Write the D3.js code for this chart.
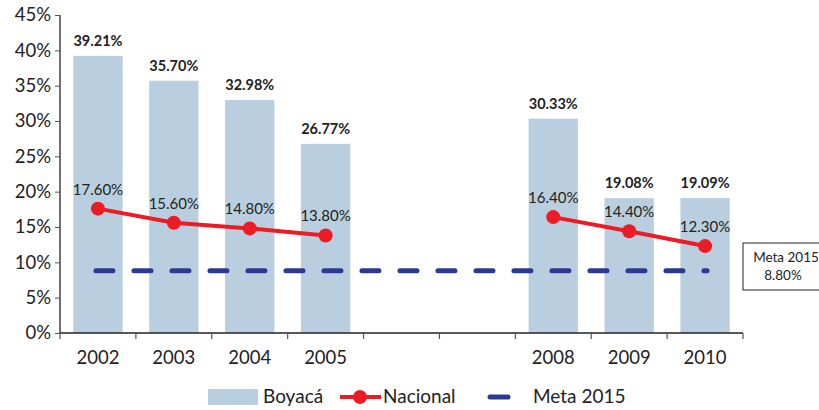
<!DOCTYPE html>
<html>
<head>
<meta charset="utf-8">
<script src="https://cdn.jsdelivr.net/npm/d3@7"></script>
<style>
  body { margin: 0; background: #fff; }
  svg { font-family: Lato, "Open Sans", sans-serif; }
</style>
</head>
<body>
<div id="chart"></div>
<script>
// data
var years = ["2002", "2003", "2004", "2005", "2006", "2007", "2008", "2009", "2010"];
var tickLabels = ["2002", "2003", "2004", "2005", "", "", "2008", "2009", "2010"];
var boyaca = [39.21, 35.70, 32.98, 26.77, null, null, 30.33, 19.08, 19.09];
var nacional = [17.60, 15.60, 14.80, 13.80, null, null, 16.40, 14.40, 12.30];
var meta2015 = 8.80;
var yTicks = [0, 5, 10, 15, 20, 25, 30, 35, 40, 45];

var W = 819, H = 410;
var margin = {top: 15, left: 60, right: 76, bottom: 77};

var svg = d3.select("#chart").append("svg")
  .attr("width", W).attr("height", H);

var x = d3.scaleBand().domain(years)
  .range([margin.left, W - margin.right])
  .paddingInner(0.35).paddingOuter(0.175);
var y = d3.scaleLinear().domain([0, 45])
  .range([H - margin.bottom, margin.top]);

var bw = x.bandwidth();
var step = x.step();
var cx = function(d) { return x(d) + bw / 2; };

var barYears = years.filter(function(d, i) { return boyaca[i] != null; });
var bval = function(d) { return boyaca[years.indexOf(d)]; };

// bars
svg.selectAll(".bar").data(barYears)
  .enter().append("rect")
  .attr("x", function(d) { return x(d); })
  .attr("y", function(d) { return y(bval(d)); })
  .attr("width", bw)
  .attr("height", function(d) { return y(0) - y(bval(d)); })
  .attr("fill", "#b9cfdf");

svg.selectAll(".barlabel").data(barYears)
  .enter().append("text")
  .attr("x", cx)
  .attr("y", function(d) { return y(bval(d)) - 10; })
  .attr("text-anchor", "middle")
  .attr("font-size", 14.5).attr("font-weight", "bold").attr("fill", "#222")
  .text(function(d) { return bval(d).toFixed(2) + "%"; });

// meta 2015 dashed line
svg.append("line")
  .attr("x1", cx("2002") - 2).attr("x2", cx("2010") + 2)
  .attr("y1", y(meta2015)).attr("y2", y(meta2015))
  .attr("stroke", "#2b3990").attr("stroke-width", 5)
  .attr("stroke-linecap", "round")
  .attr("stroke-dasharray", "17 21");

// nacional line
var line = d3.line()
  .defined(function(d) { return d.v != null; })
  .x(function(d) { return cx(d.year); })
  .y(function(d) { return y(d.v); });
var nacData = years.map(function(d, i) { return {year: d, v: nacional[i]}; });

svg.append("path").datum(nacData)
  .attr("d", line).attr("fill", "none")
  .attr("stroke", "#ed1c24").attr("stroke-width", 4);

var pts = nacData.filter(function(d) { return d.v != null; });
svg.selectAll(".pt").data(pts).enter().append("circle")
  .attr("cx", function(d) { return cx(d.year); })
  .attr("cy", function(d) { return y(d.v); })
  .attr("r", 7).attr("fill", "#ed1c24");

svg.selectAll(".ptlabel").data(pts).enter().append("text")
  .attr("x", function(d) { return cx(d.year); })
  .attr("y", function(d) { return y(d.v) - 14; })
  .attr("text-anchor", "middle")
  .attr("font-size", 15).attr("fill", "#222")
  .text(function(d) { return d.v.toFixed(2) + "%"; });

// axes
var yAxis = d3.axisLeft(y).tickValues(yTicks)
  .tickFormat(function(d) { return d + "%"; })
  .tickSize(5).tickPadding(4);
var gy = svg.append("g").attr("transform", "translate(" + margin.left + ",0)").call(yAxis);
gy.select(".domain").attr("stroke", "#222").attr("stroke-width", 1.3).attr("d", "M0," + y(45) + "V" + y(0));
gy.selectAll(".tick line").attr("stroke", "#555");
gy.selectAll("text").attr("font-size", 18.5).attr("fill", "#222")
  .attr("font-family", "Lato, sans-serif");

var xAxisG = svg.append("g").attr("transform", "translate(0," + y(0) + ")");
xAxisG.append("line")
  .attr("x1", margin.left).attr("x2", W - margin.right)
  .attr("stroke", "#222").attr("stroke-width", 1.3);
xAxisG.selectAll(".xt").data(d3.range(years.length + 1)).enter().append("line")
  .attr("x1", function(i) { return margin.left + i * step; })
  .attr("x2", function(i) { return margin.left + i * step; })
  .attr("y1", 0).attr("y2", 6)
  .attr("stroke", "#555").attr("stroke-width", 1.2);
xAxisG.selectAll(".xl").data(years).enter().append("text")
  .attr("x", cx)
  .attr("y", 31)
  .attr("text-anchor", "middle")
  .attr("font-size", 18.5).attr("fill", "#222")
  .text(function(d, i) { return tickLabels[i]; });

// meta 2015 box
var box = svg.append("g").attr("transform", "translate(743,243)");
box.append("rect").attr("width", 90).attr("height", 47)
  .attr("fill", "#fff").attr("stroke", "#222").attr("stroke-width", 1);
box.append("text").attr("x", 43).attr("y", 19).attr("text-anchor", "middle")
  .attr("font-size", 13.5).attr("fill", "#222").text("Meta 2015");
box.append("text").attr("x", 40).attr("y", 37).attr("text-anchor", "middle")
  .attr("font-size", 13.5).attr("fill", "#222").text(meta2015.toFixed(2) + "%");

// legend
var ly = 397;
var legend = svg.append("g");
legend.append("rect").attr("x", 208).attr("y", ly - 8).attr("width", 50).attr("height", 16)
  .attr("fill", "#b9cfdf");
legend.append("text").attr("x", 263).attr("y", ly + 6).attr("font-size", 19).attr("fill", "#222").text("Boyacá");
legend.append("line").attr("x1", 340).attr("x2", 381).attr("y1", ly).attr("y2", ly)
  .attr("stroke", "#ed1c24").attr("stroke-width", 4);
legend.append("circle").attr("cx", 360).attr("cy", ly).attr("r", 7).attr("fill", "#ed1c24");
legend.append("text").attr("x", 383).attr("y", ly + 6).attr("font-size", 19).attr("fill", "#222").text("Nacional");
legend.append("line").attr("x1", 490).attr("x2", 508).attr("y1", ly).attr("y2", ly)
  .attr("stroke", "#2b3990").attr("stroke-width", 5).attr("stroke-linecap", "round");
legend.append("text").attr("x", 533).attr("y", ly + 6).attr("font-size", 19).attr("fill", "#222").text("Meta 2015");
</script>
</body>
</html>
